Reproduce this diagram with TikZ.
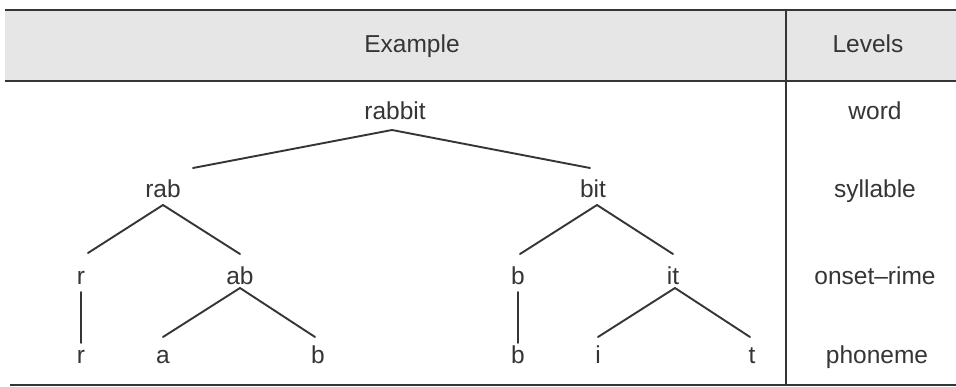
\documentclass[tikz,border=0pt]{standalone}
\usepackage{fontspec}
\setmainfont{Liberation Sans}
\usetikzlibrary{calc}
\definecolor{ink}{HTML}{353535}
\definecolor{headfill}{HTML}{E6E6E6}
\begin{document}
\begin{tikzpicture}[x=1pt,y=-1pt,
  lbl/.style={anchor=base,inner sep=0pt,text=ink,font=\fontsize{24.5}{27}\selectfont},
  edge/.style={draw=ink,line width=1.9pt,line cap=round},
  rule/.style={draw=ink,line width=#1}]
  % canvas
  \useasboundingbox (0,0) rectangle (956,387);
  \fill[white] (0,0) rectangle (956,387);
  % header band and table rules
  \fill[headfill] (5,10) rectangle (956,81);
  \draw[rule=2.6pt] (5,10) -- (956,10);
  \draw[rule=1.6pt] (5,81) -- (956,81);
  \draw[rule=2.2pt] (10,385) -- (956,385);
  \draw[rule=1.4pt] (786,10) -- (786,385);
  % header
  \node[lbl] (hex) at (412,53) {Example};
  \node[lbl] (hlv) at (868,53) {Levels};
  % level labels
  \node[lbl] (lword) at (875,120) {word};
  \node[lbl] (lsyl)  at (875,198) {syllable};
  \node[lbl] (lon)   at (875,285) {onset–rime};
  \node[lbl] (lph)   at (877,363) {phoneme};
  % tree nodes
  \node[lbl] (rabbit) at (395,120) {rabbit};
  \node[lbl] (rab) at (163,198) {rab};
  \node[lbl] (bit) at (593,198) {bit};
  \node[lbl] (r1) at (81,285) {r};
  \node[lbl] (ab) at (240,285) {ab};
  \node[lbl] (b1) at (518,285) {b};
  \node[lbl] (it) at (673,285) {it};
  \node[lbl] (r2) at (81,363) {r};
  \node[lbl] (a)  at (163,363) {a};
  \node[lbl] (b2) at (318,363) {b};
  \node[lbl] (b3) at (518,363) {b};
  \node[lbl] (i)  at (598,363) {i};
  \node[lbl] (t)  at (752,363) {t};
  % branches
  \draw[edge] ($(rab.base)+(30,-30)$) -- ($(rabbit.base)+(-3,10)$) -- ($(bit.base)+(-3,-30)$);
  \draw[edge] ($(r1.base)+(7,-32)$) -- ($(rab.base)+(0,7)$) -- ($(ab.base)+(0,-31)$);
  \draw[edge] ($(b1.base)+(2,-31)$) -- ($(bit.base)+(4,7)$) -- ($(it.base)+(0,-31)$);
  \draw[edge] ($(r1.base)+(0,7)$) -- ($(r2.base)+(0,-20)$);
  \draw[edge] ($(a.base)+(0,-26)$) -- ($(ab.base)+(0,3)$) -- ($(b2.base)+(-3,-26)$);
  \draw[edge] ($(b1.base)+(0,7)$) -- ($(b3.base)+(0,-20)$);
  \draw[edge] ($(i.base)+(0,-26)$) -- ($(it.base)+(2,3)$) -- ($(t.base)+(-2,-26)$);
\end{tikzpicture}
\end{document}
